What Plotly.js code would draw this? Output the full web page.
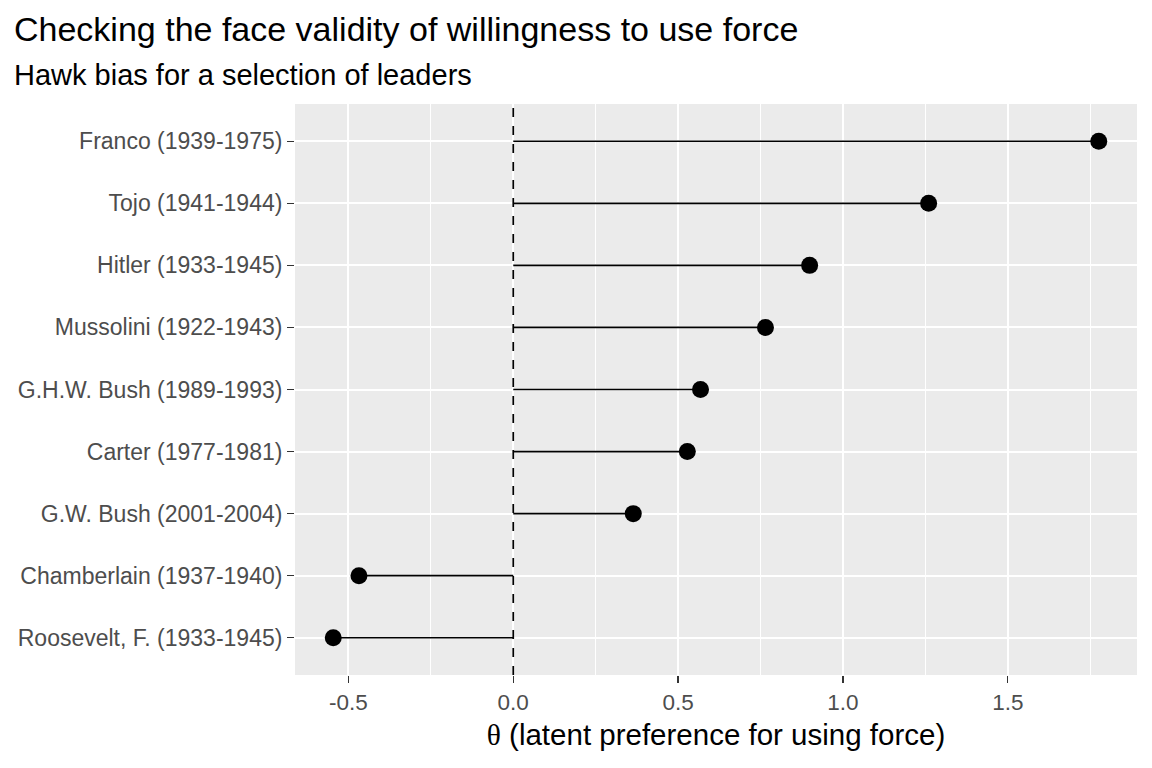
<!DOCTYPE html>
<html>
<head>
<meta charset="utf-8">
<script src="https://cdn.plot.ly/plotly-3.0.1.min.js"></script>
<style>
  body { margin: 0; background: white; }
  #chart { width: 1152px; height: 768px; }
</style>
</head>
<body>
<div id="chart"></div>
<script>
// leaders, bottom to top
var leaders = [
  "Roosevelt, F. (1933-1945)",
  "Chamberlain (1937-1940)",
  "G.W. Bush (2001-2004)",
  "Carter (1977-1981)",
  "G.H.W. Bush (1989-1993)",
  "Mussolini (1922-1943)",
  "Hitler (1933-1945)",
  "Tojo (1941-1944)",
  "Franco (1939-1975)"
];
var theta = [-0.546, -0.468, 0.364, 0.528, 0.568, 0.765, 0.899, 1.260, 1.776];

var xTicks = [-0.5, 0.0, 0.5, 1.0, 1.5];
var xTickText = ["-0.5", "0.0", "0.5", "1.0", "1.5"];

// segments from zero to each value
var segX = [];
var segY = [];
for (var i = 0; i < leaders.length; i++) {
  segX.push(0, theta[i], null);
  segY.push(leaders[i], leaders[i], null);
}

var segments = {
  x: segX,
  y: segY,
  type: 'scatter',
  mode: 'lines',
  line: {color: 'black', width: 1.7},
  hoverinfo: 'skip'
};

var points = {
  x: theta,
  y: leaders,
  type: 'scatter',
  mode: 'markers',
  marker: {color: 'black', size: 17}
};

var layout = {
  width: 1152,
  height: 768,
  paper_bgcolor: 'white',
  plot_bgcolor: '#ebebeb',
  showlegend: false,
  font: {family: 'Liberation Sans, Arial, sans-serif'},
  margin: {l: 295, r: 15, t: 104, b: 93},
  annotations: [
    {
      text: 'Checking the face validity of willingness to use force',
      xref: 'paper', yref: 'paper', x: (12 - 295) / 842, y: 1,
      yshift: 75, xanchor: 'left', yanchor: 'middle',
      showarrow: false, font: {size: 34, color: 'black'}
    },
    {
      text: 'Hawk bias for a selection of leaders',
      xref: 'paper', yref: 'paper', x: (12 - 295) / 842, y: 1,
      yshift: 29, xanchor: 'left', yanchor: 'middle',
      showarrow: false, font: {size: 29, color: 'black'}
    }
  ],
  xaxis: {
    range: [-0.662, 1.892],
    tickvals: xTicks,
    ticktext: xTickText,
    showgrid: true,
    gridcolor: 'white',
    gridwidth: 2,
    minor: {dtick: 0.25, tick0: 0.25, showgrid: true, gridcolor: 'white', gridwidth: 1},
    zeroline: false,
    showline: false,
    ticks: 'outside',
    ticklen: 7,
    tickwidth: 1.4,
    tickcolor: '#333333',
    tickfont: {size: 22.5, color: '#4d4d4d'},
    title: {
      text: '<span style="font-family:Liberation Serif, serif">θ</span> (latent preference for using force)',
      font: {size: 29.5, color: 'black'},
      standoff: 10
    }
  },
  yaxis: {
    type: 'category',
    categoryorder: 'array',
    categoryarray: leaders,
    range: [-0.6, 8.6],
    showgrid: true,
    gridcolor: 'white',
    gridwidth: 2,
    zeroline: false,
    showline: false,
    ticks: 'outside',
    ticklen: 7,
    tickwidth: 1.4,
    tickcolor: '#333333',
    tickfont: {size: 23, color: '#4d4d4d'}
  },
  shapes: [
    {
      type: 'line', xref: 'x', yref: 'paper',
      x0: 0, x1: 0, y0: 0, y1: 1,
      line: {color: 'black', width: 1.7, dash: 'dash'},
      layer: 'above'
    }
  ]
};

Plotly.newPlot('chart', [segments, points], layout, {displayModeBar: false, staticPlot: true});
</script>
</body>
</html>
